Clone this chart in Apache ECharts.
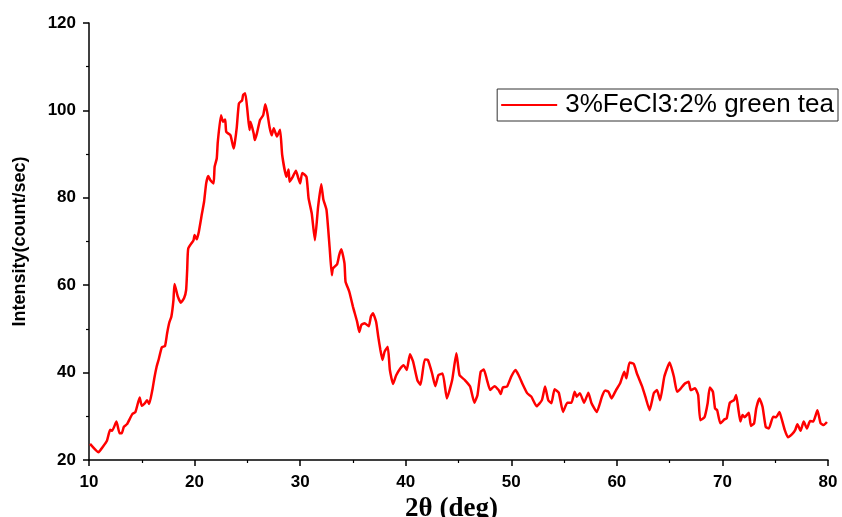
<!DOCTYPE html>
<html>
<head>
<meta charset="utf-8">
<script src="https://cdn.jsdelivr.net/npm/echarts@6/dist/echarts.min.js"></script>
<style>
html,body{margin:0;padding:0;background:#fff;}
#chart{width:842px;height:517px;}
</style>
</head>
<body>
<div id="chart"></div>
<script>
// XRD pattern: 2θ (deg) vs intensity (count/sec)
const twoTheta = [
  10.1, 10.9, 11.3, 11.7, 12.0, 12.2, 12.6, 12.9, 13.1, 13.3, 13.6, 14.1, 14.4, 14.8, 15.0, 15.3, 15.5, 15.7,
  16.0, 16.2, 16.4, 16.6, 16.9, 17.2, 17.4, 17.6, 17.8, 18.0, 18.1, 18.4, 18.7, 19.0, 19.2, 19.3, 19.4, 19.9,
  20.0, 20.2, 20.4, 20.7, 20.9, 21.1, 21.3, 21.5, 21.8, 21.9, 22.1, 22.2, 22.5, 22.7, 22.9, 23.0, 23.4, 23.7,
  23.8, 24.0, 24.2, 24.5, 24.6, 24.8, 25.0, 25.2, 25.3, 25.6, 25.7, 25.9, 26.2, 26.5, 26.7, 26.9, 27.1, 27.3,
  27.5, 27.8, 28.1, 28.3, 28.7, 28.9, 29.0, 29.3, 29.6, 29.8, 30.0, 30.2, 30.6, 30.8, 31.1, 31.4, 31.7, 32.0,
  32.2, 32.5, 32.8, 33.0, 33.1, 33.5, 33.7, 33.9, 34.2, 34.3, 34.6, 34.7, 35.0, 35.4, 35.6, 35.8, 36.1, 36.5,
  36.7, 36.9, 37.2, 37.4, 37.6, 37.8, 38.0, 38.3, 38.5, 38.8, 39.1, 39.5, 39.8, 40.1, 40.4, 40.7, 41.1, 41.4,
  41.8, 42.1, 42.5, 42.8, 43.1, 43.5, 43.9, 44.4, 44.8, 45.1, 45.6, 46.1, 46.5, 46.8, 47.1, 47.4, 47.7, 48.0,
  48.4, 48.8, 49.0, 49.2, 49.6, 50.0, 50.4, 50.7, 51.1, 51.5, 51.9, 52.4, 52.9, 53.2, 53.5, 53.8, 54.1, 54.5,
  54.9, 55.3, 55.7, 56.0, 56.2, 56.5, 56.9, 57.3, 57.6, 58.1, 58.6, 58.9, 59.2, 59.5, 59.9, 60.3, 60.7, 60.9,
  61.2, 61.6, 61.9, 62.4, 62.7, 63.1, 63.5, 63.8, 64.1, 64.5, 65.0, 65.4, 65.7, 66.0, 66.4, 66.8, 67.0, 67.4,
  67.7, 67.9, 68.3, 68.6, 68.8, 69.1, 69.3, 69.5, 69.8, 70.2, 70.4, 70.7, 71.1, 71.3, 71.5, 71.7, 71.9, 72.1,
  72.5, 72.7, 73.0, 73.2, 73.5, 73.8, 74.1, 74.4, 74.8, 75.1, 75.4, 75.6, 75.9, 76.2, 76.6, 76.9, 77.1, 77.4,
  77.7, 78.0, 78.3, 78.6, 79.0, 79.3, 79.6, 79.9
];
const intensity = [
  23.7, 21.8, 23.0, 24.4, 26.9, 26.7, 28.8, 26.1, 26.1, 27.6, 28.2, 30.5, 31.0, 34.3, 32.4, 33.0, 33.7, 32.8,
  36.0, 38.9, 41.3, 43.0, 45.8, 46.1, 49.0, 51.4, 52.8, 56.6, 60.3, 57.5, 56.0, 57.0, 58.9, 63.5, 68.4, 70.3,
  71.5, 70.5, 72.2, 76.4, 79.1, 83.3, 85.0, 84.0, 83.3, 87.1, 89.0, 92.8, 98.9, 97.4, 97.9, 95.1, 94.3, 91.3,
  92.4, 96.2, 101.6, 102.3, 103.5, 103.9, 100.1, 95.5, 97.4, 94.7, 93.2, 94.7, 97.8, 98.9, 101.4, 99.3, 96.2, 94.3,
  95.9, 94.0, 95.6, 89.8, 84.8, 86.5, 83.7, 84.8, 86.2, 84.7, 83.3, 85.7, 84.8, 79.9, 76.4, 70.3, 77.9, 83.1,
  79.6, 77.2, 68.4, 62.3, 63.8, 64.8, 66.9, 68.2, 65.0, 60.8, 58.9, 58.1, 55.1, 51.6, 49.3, 50.9, 51.3, 50.6,
  52.8, 53.6, 51.6, 48.2, 45.2, 42.9, 44.8, 45.9, 40.6, 37.4, 39.4, 41.0, 41.7, 40.6, 44.2, 42.5, 38.3, 37.2,
  43.0, 42.9, 39.8, 36.9, 39.4, 39.8, 34.1, 38.3, 44.4, 39.4, 38.3, 36.8, 33.1, 34.9, 40.2, 40.7, 38.3, 36.0,
  36.9, 36.0, 35.1, 36.6, 36.8, 39.1, 40.6, 39.4, 37.2, 35.3, 34.5, 32.3, 33.7, 36.8, 33.7, 33.0, 36.2, 35.4,
  31.0, 33.1, 33.1, 35.6, 34.5, 35.3, 33.1, 35.4, 33.0, 31.0, 34.6, 35.9, 35.6, 34.1, 35.9, 37.5, 40.2, 38.7,
  42.3, 42.0, 39.8, 36.8, 34.5, 31.4, 35.3, 36.0, 33.7, 39.1, 42.3, 39.1, 35.6, 36.2, 37.4, 37.9, 36.0, 36.4,
  34.9, 29.1, 29.8, 33.0, 36.6, 35.6, 31.8, 31.4, 28.4, 29.3, 29.5, 33.1, 33.7, 34.9, 31.8, 28.8, 30.3, 29.8,
  30.8, 27.8, 28.4, 31.8, 34.1, 32.2, 27.6, 27.2, 29.9, 29.8, 31.0, 29.5, 26.9, 25.2, 25.9, 26.9, 28.2, 26.7,
  28.8, 27.2, 28.9, 28.8, 31.4, 28.4, 28.0, 28.7
];
const seriesName = '3%FeCl3:2% green tea';

const points = twoTheta.map((x, i) => [x, intensity[i]]);

const chart = echarts.init(document.getElementById('chart'));
const axisLine = { show: true, lineStyle: { color: '#000', width: 1.5 } };
const tickLabel = { color: '#000', fontFamily: 'Liberation Sans, Arial, sans-serif', fontWeight: 'bold', fontSize: 17 };

chart.setOption({
  animation: false,
  backgroundColor: '#fff',
  grid: { left: 89, right: 14, top: 23, bottom: 57, containLabel: false, outerBoundsMode: 'none' },
  legend: {
    right: 4, top: 89,
    orient: 'vertical',
    borderColor: '#333', borderWidth: 1, borderRadius: 0,
    padding: [3, 4, 3, 4],
    itemWidth: 56, itemHeight: 24, itemGap: 0,
    icon: 'path://M0,11 L56,11 L56,13 L0,13 Z',
    textStyle: { color: '#000', fontFamily: 'Liberation Sans, Arial, sans-serif', fontSize: 26, padding: [0, 0, 0, 3] },
    data: [seriesName]
  },
  xAxis: {
    type: 'value', min: 10, max: 80, interval: 10,
    name: '2θ (deg)', nameLocation: 'middle', nameGap: 33,
    nameTextStyle: { color: '#000', fontFamily: 'Liberation Serif, Times New Roman, serif', fontWeight: 'bold', fontSize: 27, padding: [0, 14, 0, 0] },
    axisLine: axisLine,
    axisTick: { show: true, inside: false, length: 6, lineStyle: { color: '#000', width: 1.5 } },
    minorTick: { show: true, splitNumber: 2, length: 3, lineStyle: { color: '#000', width: 1.2 } },
    axisLabel: Object.assign({ margin: 14 }, tickLabel),
    splitLine: { show: false }
  },
  yAxis: {
    type: 'value', min: 20, max: 120, interval: 20,
    name: 'Intensity(count/sec)', nameLocation: 'middle', nameGap: 60, nameRotate: 90,
    nameTextStyle: { color: '#000', fontFamily: 'Liberation Sans, Arial, sans-serif', fontWeight: 'bold', fontSize: 18 },
    axisLine: axisLine,
    axisTick: { show: true, inside: false, length: 6, lineStyle: { color: '#000', width: 1.5 } },
    minorTick: { show: true, splitNumber: 2, length: 3, lineStyle: { color: '#000', width: 1.2 } },
    axisLabel: Object.assign({ margin: 13 }, tickLabel),
    splitLine: { show: false }
  },
  series: [{
    name: seriesName,
    type: 'line',
    data: points,
    showSymbol: false,
    smooth: 0.15,
    lineStyle: { color: '#ff0000', width: 2.5 },
    itemStyle: { color: '#ff0000' }
  }]
});
</script>
</body>
</html>
